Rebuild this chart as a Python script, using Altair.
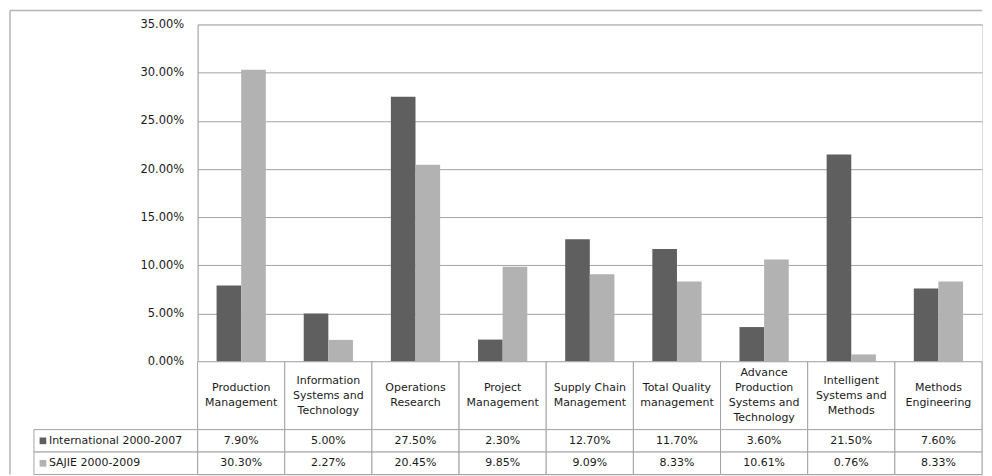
import altair as alt
import pandas as pd

categories = [
    "Production\nManagement",
    "Information\nSystems and\nTechnology",
    "Operations\nResearch",
    "Project\nManagement",
    "Supply Chain\nManagement",
    "Total Quality\nmanagement",
    "Advance\nProduction\nSystems and\nTechnology",
    "Intelligent\nSystems and\nMethods",
    "Methods\nEngineering",
]
series = ["International 2000-2007", "SAJIE 2000-2009"]
international = [7.90, 5.00, 27.50, 2.30, 12.70, 11.70, 3.60, 21.50, 7.60]
sajie = [30.30, 2.27, 20.45, 9.85, 9.09, 8.33, 10.61, 0.76, 8.33]
y_ticks = [0, 0.05, 0.10, 0.15, 0.20, 0.25, 0.30, 0.35]

rows = []
for s, vals in zip(series, [international, sajie]):
    for c, v in zip(categories, vals):
        rows.append({"category": c, "series": s, "value": v / 100.0, "label": f"{v:.2f}%"})
df = pd.DataFrame(rows)

# header lines: each category label split into lines, centred on 0
hdr_rows = []
for c in categories:
    parts = c.split("\n")
    n = len(parts)
    for i, p in enumerate(parts):
        hdr_rows.append({"category": c, "line": p, "pos": i - (n - 1) / 2.0})
hdr_df = pd.DataFrame(hdr_rows)
cat_df = pd.DataFrame({"category": categories})
lab_df = pd.DataFrame({"series": series})

DARK = "#5f5f5f"
LIGHT = "#b2b2b2"
GRID = "#a3a3a3"
FRAME = "#b4b4b4"
TXT = "#1a1a1a"
FONT = "DejaVu Sans"

PLOT_W = 786
PLOT_H = 338
HEADER_H = 68
ROW_H = 45
LABEL_W = 164
LINE_H = 15
FRAME_LEFT = -188
FRAME_TOP = -14
FRAME_RIGHT = PLOT_W
FRAME_BOTTOM = PLOT_H + HEADER_H + ROW_H

color = alt.Color("series:N", scale=alt.Scale(domain=series, range=[DARK, LIGHT]), legend=None)
xband = alt.Scale(paddingInner=0, paddingOuter=0)

bar_layer = alt.Chart(df).mark_bar().encode(
    x=alt.X("category:N", sort=categories, scale=xband, axis=None),
    xOffset=alt.XOffset("series:N", sort=series, scale=alt.Scale(paddingOuter=0.77, paddingInner=0)),
    y=alt.Y(
        "value:Q",
        scale=alt.Scale(domain=[0, 0.35], nice=False),
        axis=alt.Axis(
            title=None,
            format=".2%",
            values=y_ticks,
            grid=True,
            gridColor=GRID,
            ticks=False,
            domainColor=GRID,
            labelPadding=14,
            labelFontSize=11.5,
            labelFont=FONT,
            labelColor=TXT,
            minExtent=LABEL_W,
            maxExtent=LABEL_W,
        ),
    ),
    color=color,
)
frame_top = alt.Chart(cat_df.head(1)).mark_rule(color=FRAME, strokeWidth=1.5).encode(
    x=alt.value(FRAME_LEFT), x2=alt.value(FRAME_RIGHT), y=alt.value(FRAME_TOP)
)
frame_left = alt.Chart(cat_df.head(1)).mark_rule(color=FRAME, strokeWidth=1.5).encode(
    x=alt.value(FRAME_LEFT), y=alt.value(FRAME_TOP), y2=alt.value(FRAME_BOTTOM)
)
bars = (frame_top + frame_left + bar_layer).properties(width=PLOT_W, height=PLOT_H)

half = HEADER_H / (2.0 * LINE_H)
header = (
    alt.Chart(cat_df).mark_rect(fill="white", stroke=GRID, strokeWidth=1).encode(
        x=alt.X("category:N", sort=categories, scale=xband, axis=None),
        y=alt.value(0),
        y2=alt.value("height"),
    )
    + alt.Chart(hdr_df).mark_text(fontSize=11, font=FONT, color=TXT, baseline="middle").encode(
        x=alt.X("category:N", sort=categories, scale=xband, axis=None),
        y=alt.Y("pos:Q", scale=alt.Scale(domain=[-half, half], reverse=True, nice=False, zero=False), axis=None),
        text="line:N",
    )
).properties(width=PLOT_W, height=HEADER_H)

cell_y = alt.Y("series:N", sort=series, axis=None, scale=alt.Scale(paddingInner=0, paddingOuter=0))
cell_base = alt.Chart(df).encode(
    x=alt.X("category:N", sort=categories, axis=None, scale=xband),
    y=cell_y,
)
lab_base = alt.Chart(lab_df).encode(y=cell_y)
table = (
    cell_base.mark_rect(fill="white", stroke=GRID, strokeWidth=1)
    + cell_base.mark_text(fontSize=11, font=FONT, color=TXT).encode(text="label:N")
    + lab_base.mark_rect(fill="white", stroke=GRID, strokeWidth=1).encode(
        x=alt.value(-LABEL_W), x2=alt.value(0)
    )
    + lab_base.mark_square(size=45, opacity=1).encode(x=alt.value(-LABEL_W + 9), color=color)
    + lab_base.mark_text(align="left", fontSize=11, font=FONT, color=TXT).encode(
        x=alt.value(-LABEL_W + 15), text="series:N"
    )
).properties(width=PLOT_W, height=ROW_H)

chart = alt.vconcat(bars, header, table, spacing=0, bounds="flush").properties(
    padding={"left": 0, "top": 0, "right": 0, "bottom": 0}
).configure_view(stroke=None).configure(background="white")

chart.save("out.html", embed_options={"renderer": "svg", "actions": False})
